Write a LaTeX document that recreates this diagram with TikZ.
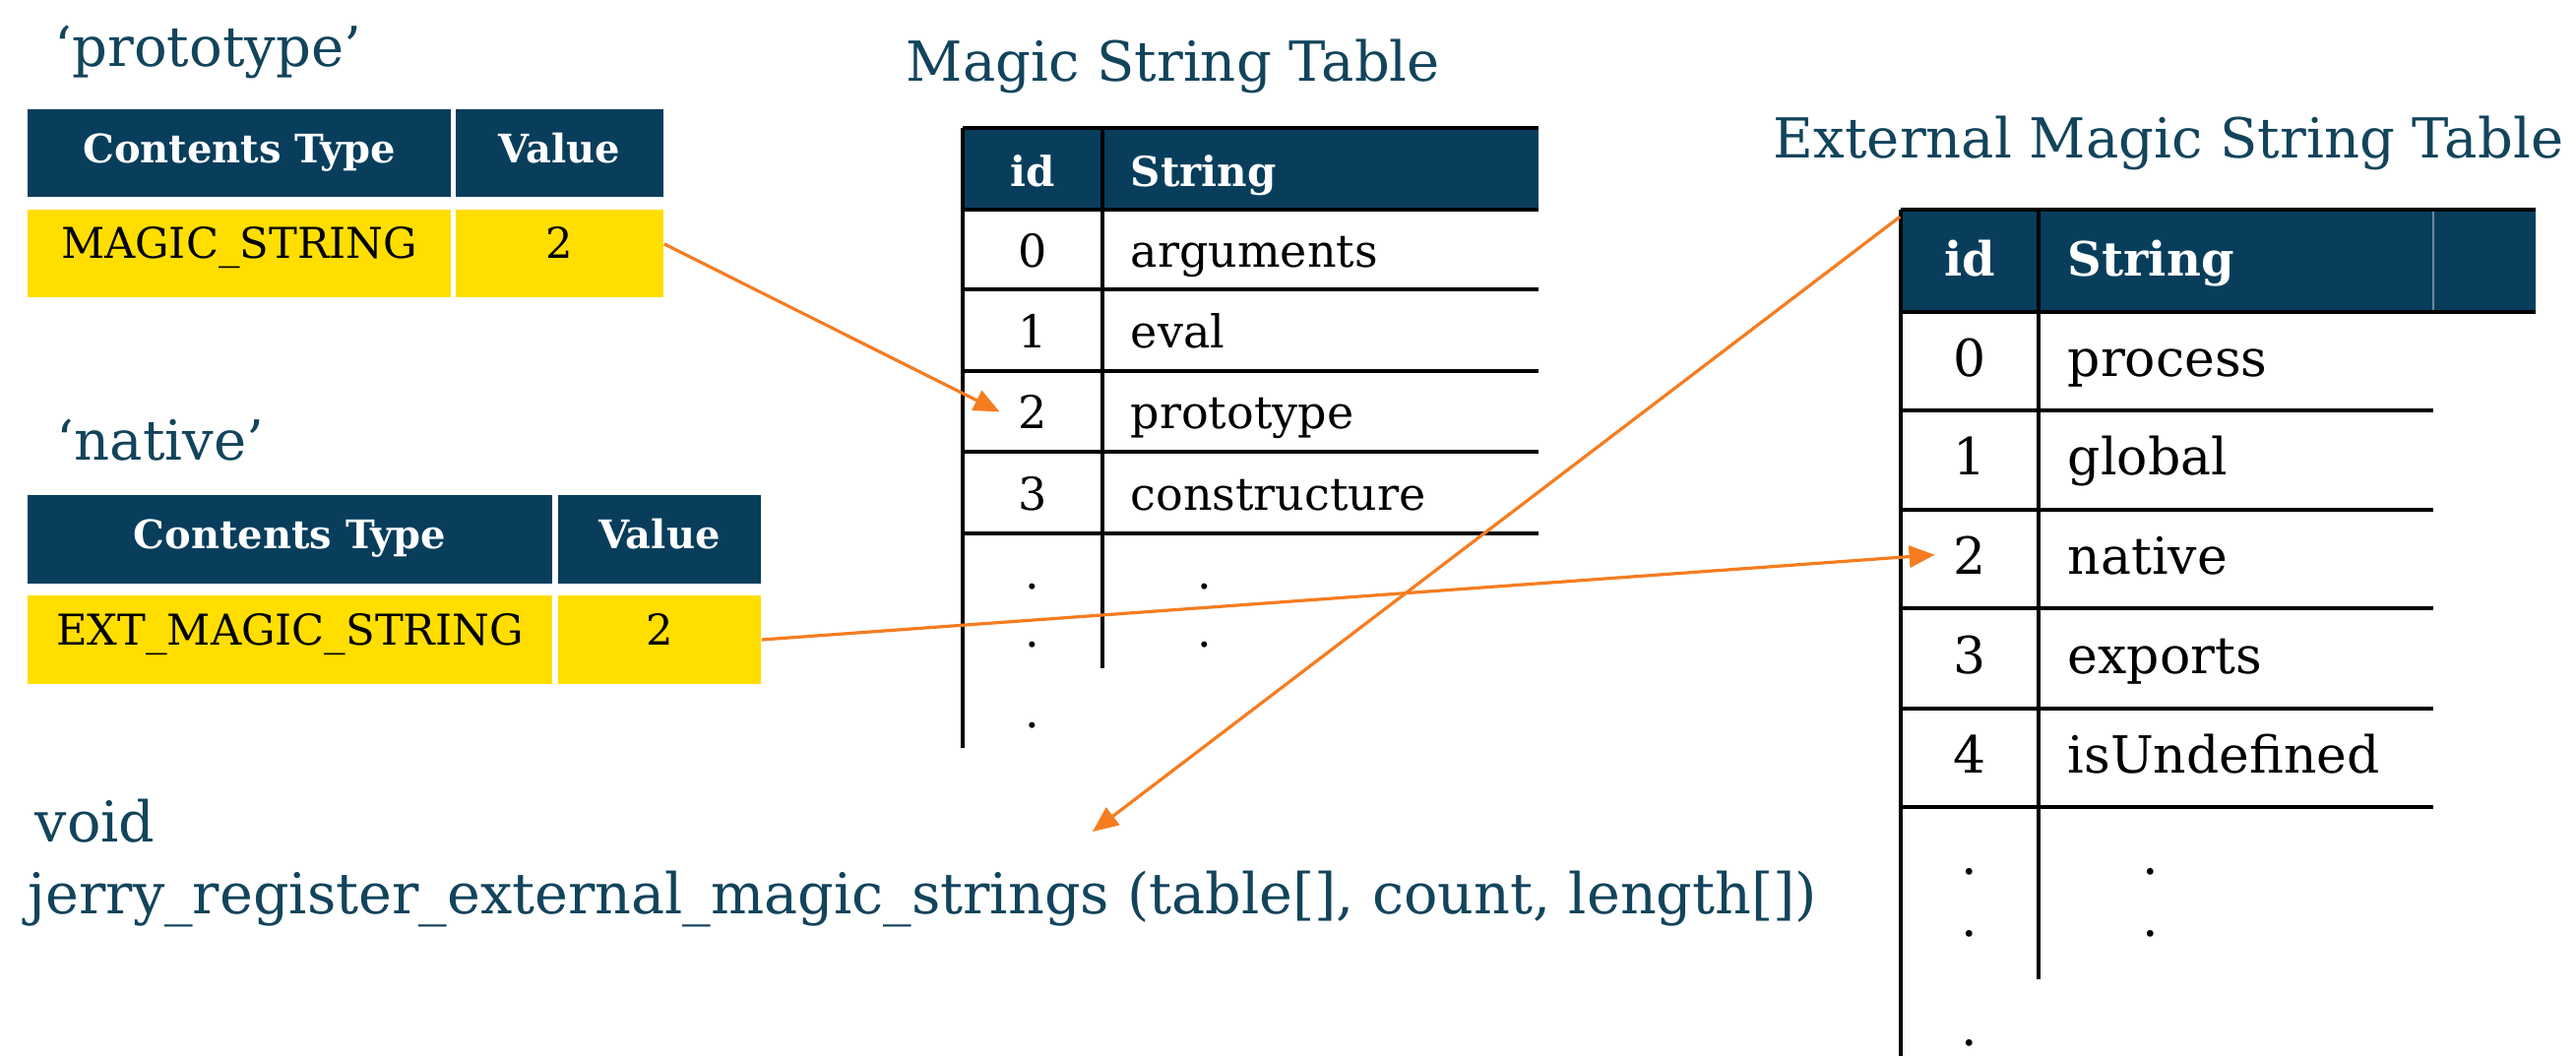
\documentclass[tikz,border=0pt]{standalone}
\usepackage{fontspec}
\setmainfont{DejaVu Serif}
\usetikzlibrary{arrows.meta}

\definecolor{hdrteal}{RGB}{8,62,92}
\definecolor{inkteal}{RGB}{18,68,92}
\definecolor{cellyellow}{RGB}{255,222,0}
\definecolor{linkorange}{RGB}{246,124,32}

\newcommand{\setfs}[1]{\fontsize{#1}{#1}\selectfont}

\begin{document}
\begin{tikzpicture}[x=0.25pt,y=-0.25pt,
  lbl/.style={anchor=base west, inner sep=0pt, text=inkteal, font=\setfs{14}},
  hdrcell/.style={rectangle, fill=hdrteal, text=white, inner sep=0pt,
    font=\setfs{10}\bfseries, text height=7.6pt, text depth=2.8pt},
  valcell/.style={rectangle, fill=cellyellow, text=black, inner sep=0pt,
    font=\setfs{10.8}, text height=7.6pt, text depth=5pt},
  hdrbar/.style={rectangle, fill=hdrteal, inner sep=0pt},
  rule/.style={draw=black, line width=0.85pt},
  mhd/.style={text=white, inner sep=0pt, font=\setfs{10.5}\bfseries},
  mnum/.style={anchor=base, inner xsep=4.5pt, inner ysep=0pt, font=\setfs{11.5}},
  mtxt/.style={anchor=base west, inner sep=0pt, font=\setfs{11.5}},
  ehd/.style={text=white, inner sep=0pt, font=\setfs{12}\bfseries},
  enum/.style={anchor=base, inner xsep=4.5pt, inner ysep=0pt, font=\setfs{13}},
  etxt/.style={anchor=base west, inner sep=0pt, font=\setfs{13}},
  link/.style={draw=linkorange, line width=0.8pt,
    -{Triangle[length=6.5pt,width=5.5pt]}}
]
\useasboundingbox (0,0) rectangle (2617,1073);
\fill[white] (0,0) rectangle (2617,1073);

% ---- entry for 'prototype'
\node[lbl] (protolbl) at (55,67) {‘prototype’};
\node[hdrcell, minimum width=107.5pt, minimum height=22.25pt] (phdrtype) at (243,155.5) {Contents Type};
\node[hdrcell, minimum width=52.75pt, minimum height=22.25pt] (phdrval) at (568.5,155.5) {Value};
\node[valcell, minimum width=107.5pt, minimum height=22.25pt] (ptype) at (243,257.5) {MAGIC\_STRING};
\node[valcell, minimum width=52.75pt, minimum height=22.25pt] (pval) at (568.5,257.5) {2};

% ---- entry for 'native'
\node[lbl] (natlbl) at (57,467) {‘native’};
\node[hdrcell, minimum width=133.25pt, minimum height=22.5pt] (nhdrtype) at (294.5,548) {Contents Type};
\node[hdrcell, minimum width=51.5pt, minimum height=22.5pt] (nhdrval) at (670,548) {Value};
\node[valcell, minimum width=133.25pt, minimum height=22.5pt] (ntype) at (294.5,650) {EXT\_MAGIC\_STRING};
\node[valcell, minimum width=51.5pt, minimum height=22.5pt] (nval) at (670,650) {2};

% ---- magic string table
\node[lbl] (msttitle) at (920,82) {Magic String Table};
\node[hdrbar, minimum width=146.25pt, minimum height=20.75pt] (msthead) at (1270.5,171.5) {};
\draw[rule] (978,130) -- (1563,130);
\foreach \y in {213,294,377,459,542} \draw[rule] (978,\y) -- (1563,\y);
\draw[rule] (978,130) -- (978,760);
\draw[rule] (1120,130) -- (1120,679);
\node[mhd, anchor=base] (mstid) at (1049,189) {id};
\node[mhd, anchor=base west] (mststr) at (1148,189) {String};
\foreach \i/\s/\b in {0/arguments/271, 1/eval/353, 2/prototype/435.5, 3/constructure/518} {
  \node[mnum] (mst\i) at (1049,\b) {\i};
  \node[mtxt] (msts\i) at (1148,\b) {\s};
}
\node[mnum] (mstdota) at (1049,598) {.};
\node[mnum] (mstdotb) at (1049,657) {.};
\node[mnum] (mstdotc) at (1049,739) {.};
\node[mnum] (mstdotd) at (1224,598) {.};
\node[mnum] (mstdote) at (1224,657) {.};

% ---- external magic string table
\node[lbl, anchor=base east] (emsttitle) at (2605,160) {External Magic String Table};
\node[hdrbar, minimum width=161.25pt, minimum height=26pt] (emsthead) at (2253.5,265) {};
\draw[hdrteal!60!white, line width=0.4pt] (2472,215) -- (2472,316);
\draw[rule] (1931,213) -- (2576,213);
\draw[rule] (1931,317) -- (2576,317);
\foreach \y in {417,518,618,720,820} \draw[rule] (1931,\y) -- (2472,\y);
\draw[rule] (1931,213) -- (1931,1073);
\draw[rule] (2071,213) -- (2071,995);
\node[ehd, anchor=base] (emstid) at (2001,280) {id};
\node[ehd, anchor=base west] (emststr) at (2100,280) {String};
\foreach \i/\s/\b in {0/process/382, 1/global/482.5, 2/native/583, 3/exports/684, 4/isUndefined/785} {
  \node[enum] (emst\i) at (2001,\b) {\i};
  \node[etxt] (emsts\i) at (2100,\b) {\s};
}
\node[enum] (emstdota) at (2001,888) {.};
\node[enum] (emstdotb) at (2001,951) {.};
\node[enum] (emstdotc) at (2001,1062) {.};
\node[enum] (emstdotd) at (2185,888) {.};
\node[enum] (emstdote) at (2185,951) {.};

% ---- registration call
\node[lbl, font=\setfs{14.3}] (fnret) at (35,855) {void};
\node[lbl, font=\setfs{14.3}] (fnname) at (28,928) {jerry\_register\_external\_magic\_strings (table[], count, length[])};
\coordinate (regcall) at (1110,845);

% ---- links
\draw[link] ([yshift=2.4pt]pval.east) -- (mst2.west);
\draw[link] (nval.east) -- (emst2.west);
\draw[link] ([yshift=-2pt]emsthead.north west) -- (regcall);
\end{tikzpicture}
\end{document}
